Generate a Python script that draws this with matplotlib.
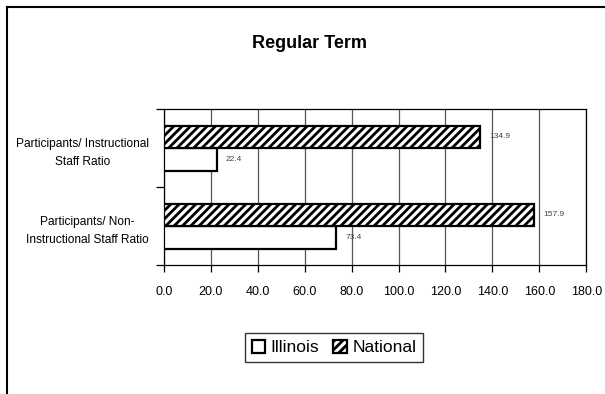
import numpy as np
import matplotlib.pyplot as plt
from matplotlib.patches import Patch

categories = ["Participants/ Non-\nInstructional Staff Ratio",
              "Participants/ Instructional\nStaff Ratio"]
illinois = [73.4, 22.4]
national = [157.9, 134.9]
series_names = ["Illinois", "National"]
xticks = [0, 20, 40, 60, 80, 100, 120, 140, 160, 180]

plt.rcParams['font.family'] = ['Liberation Sans Narrow', 'Liberation Sans', 'DejaVu Sans']
plt.rcParams['hatch.linewidth'] = 2.0

fig = plt.figure(figsize=(6.05, 3.94), dpi=100)
ax = fig.add_axes([0.271, 0.327, 0.698, 0.396])

y = np.arange(len(categories))
h = 0.29
ax.barh(y - h / 2, illinois, height=h, color='white', edgecolor='black', linewidth=1.6, zorder=3)
ax.barh(y + h / 2, national, height=h, color='white', edgecolor='black', linewidth=1.6,
        hatch='////', zorder=3)

for yi, v in zip(y - h / 2, illinois):
    ax.text(v + 4, yi, f"{v:.1f}", fontsize=6, color='#444444', va='center', ha='left')
for yi, v in zip(y + h / 2, national):
    ax.text(v + 4, yi, f"{v:.1f}", fontsize=6, color='#444444', va='center', ha='left')

ax.set_xlim(0, 180)
ax.set_ylim(-0.5, 1.5)
ax.set_xticks(xticks)
ax.set_xticklabels([f"{t:.1f}" for t in xticks], fontsize=9)
ax.xaxis.grid(True, color='#555555', linewidth=0.9, zorder=0)
ax.tick_params(axis='x', direction='out', length=5, width=0.9, pad=10)

ax.set_yticks([-0.5, 0.5, 1.5])
ax.set_yticklabels([])
ax.tick_params(axis='y', which='major', direction='out', length=6, width=0.9)
ax.set_yticks(y, minor=True)
ax.set_yticklabels(categories, minor=True, fontsize=8.6)
ax.tick_params(axis='y', which='minor', length=0, pad=11)
for lbl in ax.get_yticklabels(minor=True):
    lbl.set_multialignment('center')
    lbl.set_linespacing(1.75)

for s in ax.spines.values():
    s.set_linewidth(0.9)
    s.set_color('black')

fig.text(0.512, 0.89, "Regular Term", fontsize=13, fontweight='bold', ha='center', va='center')

handles = [Patch(facecolor='white', edgecolor='black', linewidth=1.6),
           Patch(facecolor='white', edgecolor='black', linewidth=1.6, hatch='////')]
fig.legend(handles, series_names, loc='center', bbox_to_anchor=(0.552, 0.118),
           fontsize=12.5, frameon=True, fancybox=False, edgecolor='black',
           handlelength=0.8, handleheight=0.8, handletextpad=0.3, columnspacing=0.8,
           ncol=2, borderpad=0.4)

# outer chart border (top and left only visible)
fig.add_artist(plt.Line2D([0.0116, 0.0116], [0, 0.982], color='black', linewidth=1.5,
                          transform=fig.transFigure))
fig.add_artist(plt.Line2D([0.0116, 1.0], [0.982, 0.982], color='black', linewidth=1.5,
                          transform=fig.transFigure))

fig.savefig("out.png", dpi=100)
